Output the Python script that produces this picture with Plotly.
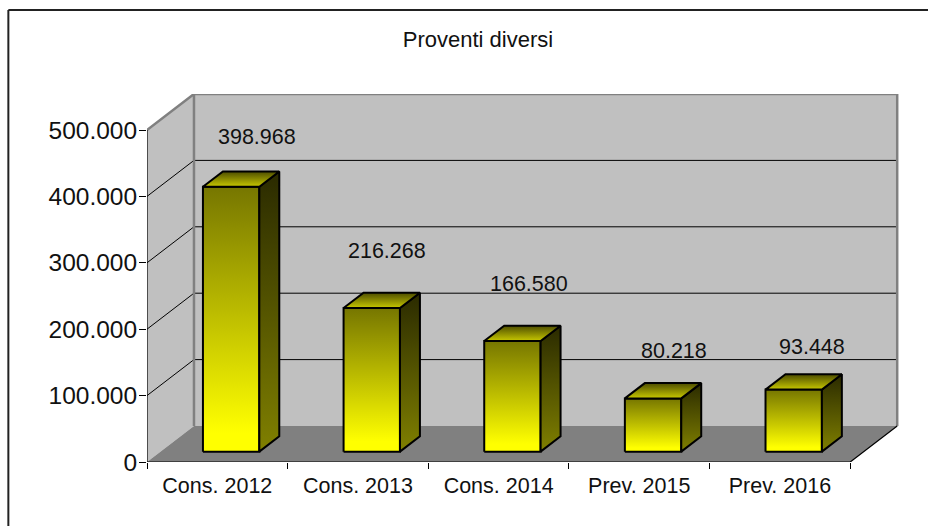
import plotly.graph_objects as go

# Chart data
categories = ["Cons. 2012", "Cons. 2013", "Cons. 2014", "Prev. 2015", "Prev. 2016"]
values = [398968, 216268, 166580, 80218, 93448]
axis_ticks = [0, 100000, 200000, 300000, 400000, 500000]

# Label placement relative to the top of each bar, in pixels
label_dx = [26, 16, 17, 21, 19]
label_dy = [50, 57, 57, 47, 43]

# Canvas geometry in pixels
LEFT, BOTTOM = 146.7, 462.0
RIGHT_BACK, TOP_BACK = 899.0, 94.0
BAND_PX = 140.7
UNIT_PX = 332.0 / 500000
DEPTH_X_PX, DEPTH_Y_PX = 47.0, 36.0

# Oblique projection in axis units: depth 0 is the front plane, 1 the back wall
DX = DEPTH_X_PX / BAND_PX
DY = DEPTH_Y_PX / UNIT_PX
BAR_WIDTH = 56.4 / BAND_PX
BAR_SHIFT = 0.3 / BAND_PX
BAR_DEPTH = (0.2875, 0.7125)
N = len(categories)
XMAX = (RIGHT_BACK - LEFT) / BAND_PX
YMAX = (BOTTOM - TOP_BACK) / UNIT_PX


def proj(x, v, d):
    return x + d * DX, v + d * DY


def polygon(points, fill=None, gradient=None, line_color=None, line_width=0, closed=True):
    pts = [proj(*p) for p in points]
    if closed:
        pts.append(pts[0])
    kw = {}
    if closed:
        kw["fill"] = "toself"
        if gradient is not None:
            kw["fillgradient"] = dict(type="vertical", colorscale=gradient)
        elif fill is not None:
            kw["fillcolor"] = fill
    return go.Scatter(
        x=[p[0] for p in pts],
        y=[p[1] for p in pts],
        mode="lines",
        line=dict(color=line_color or "rgba(0,0,0,0)", width=line_width),
        hoverinfo="skip",
        showlegend=False,
        cliponaxis=False,
        **kw,
    )


fig = go.Figure()

WALL = "#C0C0C0"
EDGE = "#808080"
vtop = axis_ticks[-1]

# Chart box: side wall, back wall, floor
fig.add_trace(polygon([(0, 0, 0), (0, 0, 1), (0, vtop, 1), (0, vtop, 0)], fill=WALL))
fig.add_trace(polygon([(0, 0, 1), (N, 0, 1), (N, vtop, 1), (0, vtop, 1)], fill=WALL))
fig.add_trace(polygon([(0, 0, 0), (N, 0, 0), (N, 0, 1), (0, 0, 1)], fill=EDGE))

# Gridlines run across the side wall and the back wall
for v in axis_ticks[1:-1]:
    fig.add_trace(polygon([(0, v, 0), (0, v, 1), (N, v, 1)], line_color="black", line_width=1, closed=False))

# Wall edges
fig.add_trace(polygon([(0, vtop, 0), (0, vtop, 1), (N, vtop, 1), (N, 0, 1)], line_color=EDGE, line_width=2.5, closed=False))
fig.add_trace(polygon([(0, 0, 1), (0, vtop, 1)], line_color=EDGE, line_width=2.5, closed=False))

# Axis lines
fig.add_trace(polygon([(0, vtop, 0), (0, 0, 0), (N, 0, 0), (N, 0, 1)], line_color="black", line_width=1.2, closed=False))

# Vertical gradients, listed from the lower edge of a face to its upper edge
FRONT = [[0, "#FFFF00"], [0.07, "#FFFF00"], [1, "#767600"]]
SIDE = [[0, "#808000"], [1, "#2A2A00"]]
TOP = [[0, "#C8C800"], [1, "#4D4D00"]]

# Bars
for i, v in enumerate(values):
    x0 = i + 0.5 - BAR_WIDTH / 2 + BAR_SHIFT
    x1 = x0 + BAR_WIDTH
    d0, d1 = BAR_DEPTH
    fig.add_trace(polygon([(x0, 0, d0), (x1, 0, d0), (x1, v, d0), (x0, v, d0)], gradient=FRONT, line_color="black", line_width=2))
    fig.add_trace(polygon([(x1, 0, d0), (x1, 0, d1), (x1, v, d1), (x1, v, d0)], gradient=SIDE, line_color="black", line_width=2))
    fig.add_trace(polygon([(x0, v, d0), (x1, v, d0), (x1, v, d1), (x0, v, d1)], gradient=TOP, line_color="black", line_width=2))

# Value labels
annotations = []
for i, v in enumerate(values):
    lx, ly = proj(i + 0.5, v, BAR_DEPTH[0])
    annotations.append(dict(
        x=lx, y=ly, xref="x", yref="y",
        text=f"{v:,}".replace(",", "."),
        showarrow=False, xanchor="center", yanchor="middle",
        xshift=label_dx[i], yshift=label_dy[i],
        font=dict(size=21.5),
    ))

fig.update_layout(
    width=928,
    height=526,
    margin=dict(l=LEFT, r=928 - RIGHT_BACK, t=TOP_BACK, b=526 - BOTTOM, pad=0),
    paper_bgcolor="white",
    plot_bgcolor="white",
    separators=",.",
    font=dict(family="Liberation Sans, Arial, sans-serif", size=21.5, color="#111111"),
    showlegend=False,
    hovermode=False,
    title=dict(text="Proventi diversi", x=478 / 928, xanchor="center", y=1 - 39 / 526, yanchor="middle", font=dict(size=22)),
    annotations=annotations,
    xaxis=dict(
        range=[0, XMAX],
        tickmode="array",
        tickvals=[i + 0.5 for i in range(N)],
        ticktext=categories,
        ticks="",
        ticklabelstandoff=8,
        showgrid=False,
        zeroline=False,
        showline=False,
        minor=dict(tickmode="array", tickvals=list(range(N + 1)), ticks="outside", ticklen=6, tickwidth=1, tickcolor="black", showgrid=False),
    ),
    yaxis=dict(
        range=[0, YMAX],
        tickmode="array",
        tickvals=axis_ticks,
        tickformat=",d",
        ticks="outside",
        ticklen=7,
        tickwidth=1,
        tickcolor="black",
        ticklabelstandoff=-3,
        showgrid=False,
        zeroline=False,
        showline=False,
        tickfont=dict(size=24.5),
    ),
    shapes=[
        # Outer frame, visible along the left and top
        dict(type="line", xref="paper", yref="paper", layer="above",
             x0=(8 - LEFT) / (RIGHT_BACK - LEFT), x1=(8 - LEFT) / (RIGHT_BACK - LEFT),
             y0=-(526 - BOTTOM) / (BOTTOM - TOP_BACK), y1=(BOTTOM - 10) / (BOTTOM - TOP_BACK),
             line=dict(color="#222222", width=2)),
        dict(type="line", xref="paper", yref="paper", layer="above",
             x0=(8 - LEFT) / (RIGHT_BACK - LEFT), x1=(928 - LEFT) / (RIGHT_BACK - LEFT),
             y0=(BOTTOM - 10) / (BOTTOM - TOP_BACK), y1=(BOTTOM - 10) / (BOTTOM - TOP_BACK),
             line=dict(color="#222222", width=2)),
    ],
)

fig.write_html("out.html")
